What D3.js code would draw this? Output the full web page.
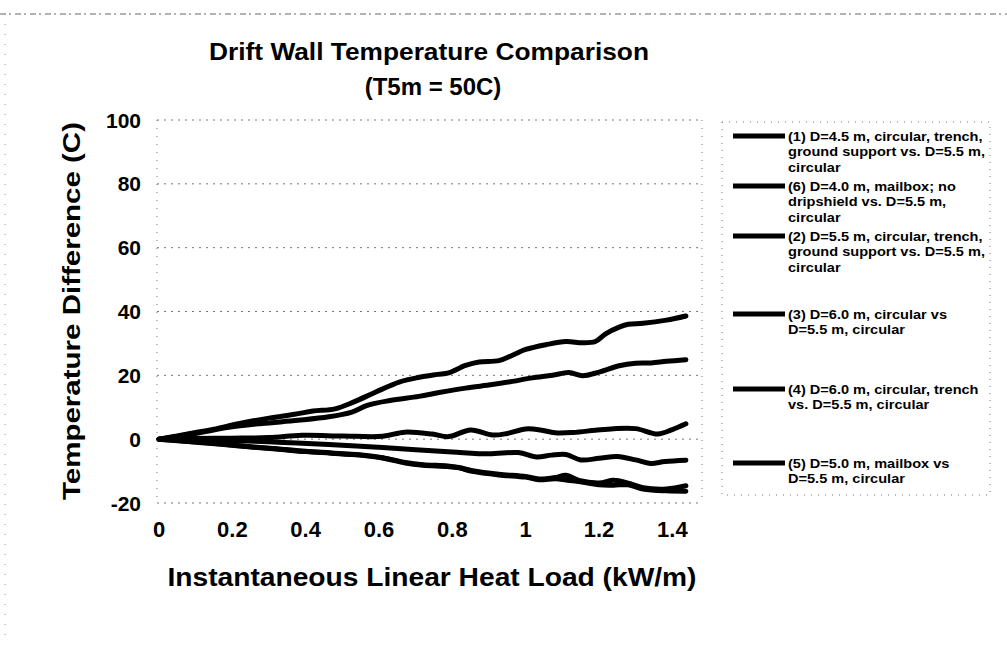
<!DOCTYPE html>
<html><head><meta charset="utf-8">
<script src="https://cdn.jsdelivr.net/npm/d3@7"></script>
<style>
body{margin:0;background:#fff}
svg{display:block}
text{font-family:"Liberation Sans",Arial,sans-serif;font-weight:bold;fill:#000}
</style>
</head><body>
<svg id="chart" width="1007" height="662"></svg>
<script>
// ---- data ----
const xTicks = [0, 0.2, 0.4, 0.6, 0.8, 1, 1.2, 1.4];
const xTickLabels = ["0", "0.2", "0.4", "0.6", "0.8", "1", "1.2", "1.4"];
const yTicks = [-20, 0, 20, 40, 60, 80, 100];
const yTickLabels = ["-20", "0", "20", "40", "60", "80", "100"];

const series1 = [[0,0],[0.05,1.0],[0.1,2.1],[0.14,2.9],[0.22,4.9],[0.3,6.6],[0.37,7.8],[0.42,8.8],[0.48,9.5],[0.53,11.6],[0.59,14.7],[0.655,17.9],[0.71,19.4],[0.76,20.3],[0.79,20.8],[0.836,23.1],[0.873,24.2],[0.927,24.6],[0.964,26.3],[1.0,28.1],[1.055,29.6],[1.11,30.6],[1.155,30.2],[1.19,30.6],[1.218,33],[1.255,35.1],[1.28,36.0],[1.32,36.3],[1.384,37.3],[1.437,38.6]];
const series6 = [[0,0],[0.1,1.8],[0.19,3.7],[0.28,4.9],[0.379,5.9],[0.463,7.0],[0.526,8.5],[0.568,10.6],[0.63,12.1],[0.709,13.4],[0.764,14.6],[0.836,16.0],[0.909,17.1],[0.964,18.1],[1.018,19.2],[1.073,20.0],[1.118,20.9],[1.155,19.9],[1.2,21.0],[1.255,23.0],[1.3,23.8],[1.342,23.9],[1.384,24.4],[1.437,24.9]];
const series2 = [[0,0],[0.1,0.2],[0.2,0.3],[0.3,0.5],[0.39,1.2],[0.5,1.0],[0.61,0.9],[0.67,2.2],[0.745,1.6],[0.79,0.8],[0.85,2.9],[0.91,1.3],[0.95,1.8],[1.0,3.2],[1.04,2.9],[1.08,2.0],[1.13,2.1],[1.19,2.8],[1.24,3.3],[1.3,3.3],[1.36,1.6],[1.4,3.0],[1.437,4.8]];
const series3 = [[0,0],[0.1,-0.3],[0.2,-0.5],[0.3,-0.8],[0.39,-1.3],[0.5,-1.9],[0.61,-2.6],[0.7,-3.3],[0.8,-4.0],[0.9,-4.6],[0.98,-4.2],[1.03,-5.6],[1.07,-5.0],[1.11,-4.8],[1.15,-6.5],[1.2,-6.0],[1.25,-5.4],[1.3,-6.5],[1.34,-7.6],[1.38,-7.0],[1.437,-6.6]];
const series4 = [[0,0],[0.086,-0.7],[0.17,-1.5],[0.243,-2.3],[0.32,-3.0],[0.4,-3.8],[0.47,-4.3],[0.547,-4.9],[0.61,-5.8],[0.672,-7.3],[0.72,-8.0],[0.787,-8.4],[0.818,-8.9],[0.855,-9.9],[0.927,-11.0],[1.0,-11.7],[1.036,-12.5],[1.082,-12.0],[1.11,-11.3],[1.145,-12.9],[1.2,-13.7],[1.24,-12.9],[1.28,-13.8],[1.32,-15.2],[1.384,-15.6],[1.437,-14.6]];
const series5 = [[0,0],[0.086,-0.8],[0.17,-1.6],[0.243,-2.4],[0.32,-3.1],[0.4,-3.9],[0.47,-4.4],[0.547,-5.0],[0.61,-5.9],[0.672,-7.5],[0.72,-8.2],[0.787,-8.6],[0.818,-9.0],[0.855,-10.1],[0.927,-11.2],[1.0,-11.9],[1.036,-12.7],[1.082,-12.4],[1.11,-12.8],[1.145,-13.3],[1.2,-14.3],[1.24,-14.4],[1.28,-14.3],[1.32,-15.6],[1.384,-16.2],[1.437,-16.3]];

const legendLabels = [
  ["(1) D=4.5 m, circular, trench,", "ground support vs. D=5.5 m,", "circular"],
  ["(6) D=4.0 m, mailbox; no", "dripshield vs. D=5.5 m,", "circular"],
  ["(2) D=5.5 m, circular, trench,", "ground support vs. D=5.5 m,", "circular"],
  ["(3) D=6.0 m, circular vs", "D=5.5 m, circular"],
  ["(4) D=6.0 m, circular, trench", "vs. D=5.5 m, circular"],
  ["(5) D=5.0 m, mailbox vs", "D=5.5 m, circular"]
];
const allSeries = [series1, series6, series2, series3, series4, series5];

const titleText = "Drift Wall Temperature Comparison";
const subtitleText = "(T5m = 50C)";
const xTitle = "Instantaneous Linear Heat Load (kW/m)";
const yTitle = "Temperature Difference (C)";

// ---- drawing ----
const svg = d3.select("#chart");
svg.append("rect").attr("width",1007).attr("height",662).attr("fill","#fff");

const plotL = 157, plotR = 702, plotT = 120, plotB = 503;
const x = d3.scaleLinear().domain([0, 1.5]).range([159, 709]);
const y = d3.scaleLinear().domain([-20, 100]).range([plotB, plotT]);

// outer chart frame (faint, scanned look)
svg.append("line").attr("x1",0).attr("x2",1007).attr("y1",14).attr("y2",14)
  .attr("stroke","#666").attr("stroke-width",1).attr("stroke-dasharray","6,3,2,4");
svg.append("line").attr("x1",5).attr("x2",5).attr("y1",14).attr("y2",640)
  .attr("stroke","#999").attr("stroke-width",1).attr("stroke-dasharray","1,9");

// gridlines
svg.append("g").selectAll("line").data(yTicks).join("line")
  .attr("x1", plotL).attr("x2", plotR)
  .attr("y1", d => y(d)).attr("y2", d => y(d))
  .attr("stroke", "#777").attr("stroke-width", 1).attr("stroke-dasharray", "2,5");
// plot sides
[plotL, plotR].forEach(px => {
  svg.append("line").attr("x1",px).attr("x2",px).attr("y1",plotT).attr("y2",plotB)
    .attr("stroke","#777").attr("stroke-width",1).attr("stroke-dasharray","1,7");
});

// axis labels
svg.append("g").selectAll("text").data(yTicks).join("text")
  .attr("x", 141).attr("y", d => y(d) + 7.5)
  .attr("text-anchor", "end").attr("font-size", 21)
  .text((d, i) => yTickLabels[i]);
svg.append("g").selectAll("text").data(xTicks).join("text")
  .attr("x", d => x(d)).attr("y", 537)
  .attr("text-anchor", "middle").attr("font-size", 22)
  .text((d, i) => xTickLabels[i]);

// series
const line = d3.line().x(d => x(d[0])).y(d => y(d[1])).curve(d3.curveCatmullRom);
svg.append("g").selectAll("path").data(allSeries).join("path")
  .attr("d", line).attr("fill", "none").attr("stroke", "#000")
  .attr("stroke-width", 5).attr("stroke-linejoin","round").attr("stroke-linecap","round");

// titles
svg.append("text").attr("x", 429).attr("y", 60).attr("text-anchor","middle")
  .attr("font-size", 24).attr("textLength", 440).attr("lengthAdjust","spacingAndGlyphs").text(titleText);
svg.append("text").attr("x", 433).attr("y", 95).attr("text-anchor","middle")
  .attr("font-size", 24).text(subtitleText);
svg.append("text").attr("x", 432).attr("y", 586).attr("text-anchor","middle")
  .attr("font-size", 25).attr("textLength", 529).attr("lengthAdjust","spacingAndGlyphs").text(xTitle);
svg.append("text").attr("transform","translate(80,311) rotate(-90)").attr("text-anchor","middle")
  .attr("font-size", 24).attr("textLength", 378).attr("lengthAdjust","spacingAndGlyphs").text(yTitle);

// legend
svg.append("rect").attr("x",722).attr("y",122).attr("width",268).attr("height",373)
  .attr("fill","none").attr("stroke","#777").attr("stroke-width",1).attr("stroke-dasharray","1,6");
const legendY = [136, 186, 236, 314, 389, 463];
const lg = svg.append("g").selectAll("g").data(legendLabels).join("g")
  .attr("transform", (d, i) => `translate(0,${legendY[i]})`);
lg.append("line").attr("x1",733).attr("x2",785).attr("y1",0).attr("y2",0)
  .attr("stroke","#000").attr("stroke-width",5);
lg.each(function(lines) {
  const t = d3.select(this).append("g").attr("transform","translate(788,0) scale(1.12,1)")
    .append("text").attr("x",0).attr("y",4.5).attr("font-size",13);
  lines.forEach((s, j) => t.append("tspan").attr("x",0).attr("dy", j === 0 ? 0 : 16).text(s));
});
</script>
</body></html>
